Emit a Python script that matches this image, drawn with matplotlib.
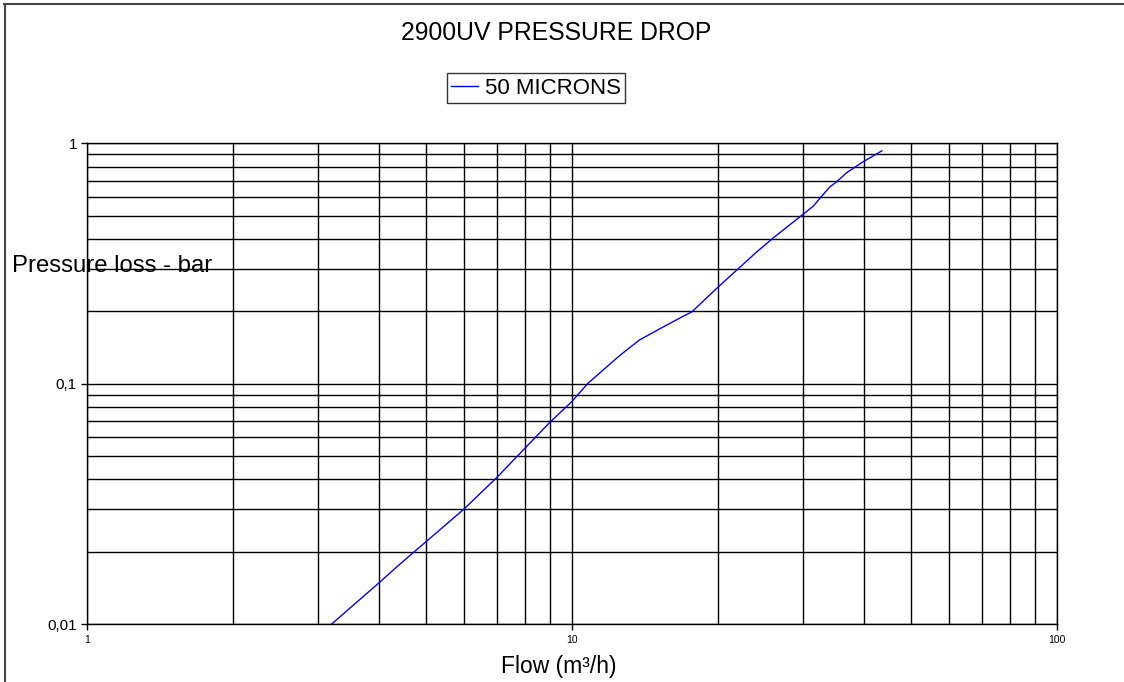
import matplotlib
matplotlib.use("Agg")
import matplotlib.pyplot as plt
from matplotlib.lines import Line2D
from matplotlib.ticker import FixedLocator, FixedFormatter, NullFormatter

plt.rcParams['font.family'] = ['Liberation Sans', 'DejaVu Sans']

# data
flow = [3.2, 4.0, 4.36, 6.0, 6.27, 7.0, 9.0, 10.0, 10.8, 12.6, 13.8, 15.1,
        17.0, 17.7, 19.9, 21.9, 24.1, 26.0, 29.9, 31.5, 32.8, 34.1, 35.2,
        36.9, 39.9, 43.6]
pressure = [0.01, 0.0148, 0.0173, 0.0301, 0.0328, 0.0406, 0.0688, 0.0841,
            0.1003, 0.1316, 0.152, 0.168, 0.191, 0.199, 0.249, 0.297, 0.354,
            0.403, 0.504, 0.548, 0.604, 0.66, 0.692, 0.755, 0.838, 0.93]
series_name = "50 MICRONS"

x_ticks = [1, 10, 100]
x_labels = ["1", "10", "100"]
y_ticks = [0.01, 0.1, 1]
y_labels = ["0,01", "0,1", "1"]

W, H = 1124, 682
fig = plt.figure(figsize=(W / 100, H / 100), dpi=100)
ax = fig.add_axes([86.7 / W, 1 - 624 / H, (1056.7 - 86.7) / W, (624 - 143.3) / H])

ax.set_xscale("log")
ax.set_yscale("log")
ax.set_xlim(1, 100)
ax.set_ylim(0.01, 1)

ax.plot(flow, pressure, color="#0000ff", lw=1, label=series_name)

ax.xaxis.set_major_locator(FixedLocator(x_ticks))
ax.xaxis.set_major_formatter(FixedFormatter(x_labels))
ax.yaxis.set_major_locator(FixedLocator(y_ticks))
ax.yaxis.set_major_formatter(FixedFormatter(y_labels))
ax.xaxis.set_minor_formatter(NullFormatter())
ax.yaxis.set_minor_formatter(NullFormatter())
ax.tick_params(axis="x", which="major", labelsize=7.5, length=4, width=1, pad=4)
ax.tick_params(axis="y", which="major", labelsize=11, length=4, width=1, pad=3)
ax.tick_params(which="minor", length=0)

ax.grid(which="both", color="black", lw=1)
ax.set_axisbelow(True)
for s in ax.spines.values():
    s.set_color("black")
    s.set_linewidth(1)

# outer chart frame (top and left edges visible)
fig.add_artist(Line2D([4 / W, 1], [1 - 4 / H] * 2, color="#444444", lw=1.5))
fig.add_artist(Line2D([4.5 / W] * 2, [0, 1 - 4 / H], color="#444444", lw=1.5))

fig.text(556 / W, 1 - 33 / H, "2900UV PRESSURE DROP", ha="center", va="center",
         fontsize=17.8)
fig.text(12 / W, 1 - 266 / H, "Pressure loss - bar", ha="left", va="center",
         fontsize=17.2)
fig.text(559 / W, 1 - 667 / H, "Flow (m³/h)", ha="center", va="center",
         fontsize=16.5)

leg = fig.legend(loc="center", bbox_to_anchor=(536 / W, 1 - 88 / H),
                 fontsize=16, handlelength=1.2, handletextpad=0.3,
                 borderpad=0.2, borderaxespad=0, fancybox=False,
                 frameon=True)
leg.get_frame().set_edgecolor("black")
leg.get_frame().set_linewidth(1)

fig.savefig("out.png", dpi=100)
